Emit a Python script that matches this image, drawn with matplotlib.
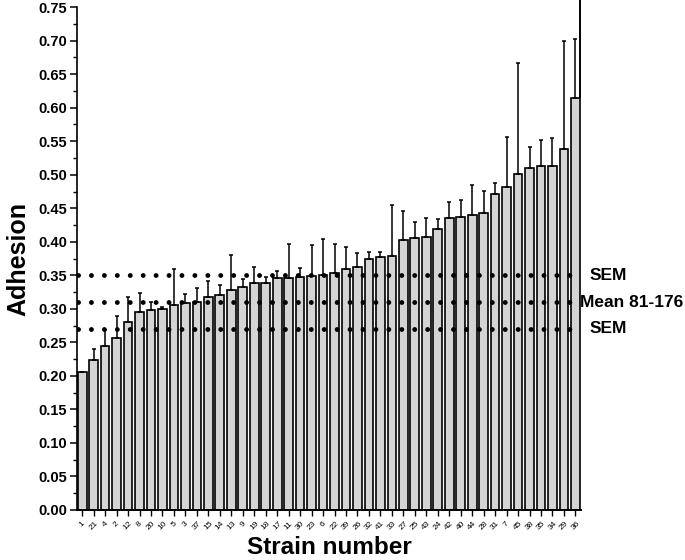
import matplotlib
matplotlib.use("Agg")
import matplotlib.pyplot as plt
from matplotlib.ticker import MultipleLocator
from matplotlib.transforms import blended_transform_factory
import numpy as np

plt.rcParams['font.family'] = ['Liberation Sans', 'DejaVu Sans']

strains = ["1", "21", "4", "2", "12", "8", "20", "10", "5", "3", "37", "15", "14", "13",
           "9", "19", "18", "17", "11", "30", "23", "6", "22", "39", "26", "32", "41", "33",
           "27", "25", "43", "24", "42", "40", "44", "28", "31", "7", "45", "38", "35", "34",
           "29", "36"]
adhesion = [0.206, 0.224, 0.245, 0.257, 0.281, 0.296, 0.299, 0.300, 0.305, 0.308, 0.310,
            0.317, 0.320, 0.328, 0.333, 0.338, 0.338, 0.346, 0.346, 0.347, 0.349, 0.351,
            0.354, 0.359, 0.363, 0.374, 0.377, 0.379, 0.403, 0.405, 0.407, 0.419, 0.435,
            0.437, 0.440, 0.443, 0.472, 0.482, 0.501, 0.510, 0.513, 0.513, 0.538, 0.614]
err_top = [None, 0.240, 0.269, 0.290, 0.317, 0.323, 0.310, 0.302, 0.359, 0.322, 0.331,
           0.342, 0.335, 0.381, 0.344, 0.363, 0.348, 0.356, 0.397, 0.361, 0.395, 0.404,
           0.397, 0.392, 0.383, 0.385, 0.385, 0.455, 0.446, 0.430, 0.435, 0.434, 0.459,
           0.462, 0.485, 0.476, 0.488, 0.556, 0.667, 0.542, 0.552, 0.555, 0.699, 0.703]
ref_values = [0.35, 0.31, 0.27]
ref_labels = ["SEM", "Mean 81-176", "SEM"]
ref_label_x = [1.016, 0.998, 1.016]

x = np.arange(len(strains))
adh = np.array(adhesion)
upper = np.array([0 if e is None else e - a for e, a in zip(err_top, adhesion)])
yerr = np.vstack([np.zeros_like(upper), upper])

fig = plt.figure(figsize=(6.85, 5.6), dpi=100)
ax = fig.add_axes([0.1124, 0.0893, 0.736, 0.898])

width = 0.76
ax.bar(x, adh, width=width, color="#d4d4d4", edgecolor="black", linewidth=1.2, zorder=2)
ax.errorbar(x, adh, yerr=yerr, fmt="none", ecolor="black", elinewidth=1.1,
            capsize=1.5, capthick=1.1, zorder=3)

# tall line at right edge of the last bar
ax.vlines(x[-1] + width / 2, adh[-1], 0.76, color="black", linewidth=1.4, zorder=3,
          clip_on=False)

xmin, xmax = -0.45, len(strains) - 0.5
ax.set_xlim(xmin, xmax)
ax.set_ylim(0, 0.75)

trans = blended_transform_factory(ax.transAxes, ax.transData)
for v, lab, lx in zip(ref_values, ref_labels, ref_label_x):
    ax.plot([xmin + 0.1, xmax], [v, v], color="black", linewidth=3.5,
            linestyle=(0, (0.01, 2.65)), dash_capstyle="round", zorder=4)
    ax.text(lx, v, lab, transform=trans, ha="left", va="center",
            fontsize=12.5, fontweight="bold")

ax.spines["top"].set_visible(False)
ax.spines["right"].set_visible(False)
ax.spines["left"].set_linewidth(1.2)
ax.spines["bottom"].set_linewidth(1.4)

ax.yaxis.set_major_locator(MultipleLocator(0.05))
ax.yaxis.set_minor_locator(MultipleLocator(0.025))
ax.set_yticklabels([f"{t:.2f}" for t in ax.get_yticks()])
ax.tick_params(axis="y", which="major", length=5, width=1.1, labelsize=10.5, pad=2)
ax.tick_params(axis="y", which="minor", length=3, width=1.0)
for lbl in ax.get_yticklabels():
    lbl.set_fontweight("bold")

ax.set_xticks(x)
ax.set_xticklabels(strains, rotation=45, fontsize=6, ha="center", va="top")
ax.tick_params(axis="x", which="major", length=4, width=1.0, pad=3)

ax.set_ylabel("Adhesion", fontsize=18, fontweight="bold", labelpad=6)
ax.set_xlabel("Strain number", fontsize=17.5, fontweight="bold", labelpad=3)

fig.savefig("out.png", dpi=100)
